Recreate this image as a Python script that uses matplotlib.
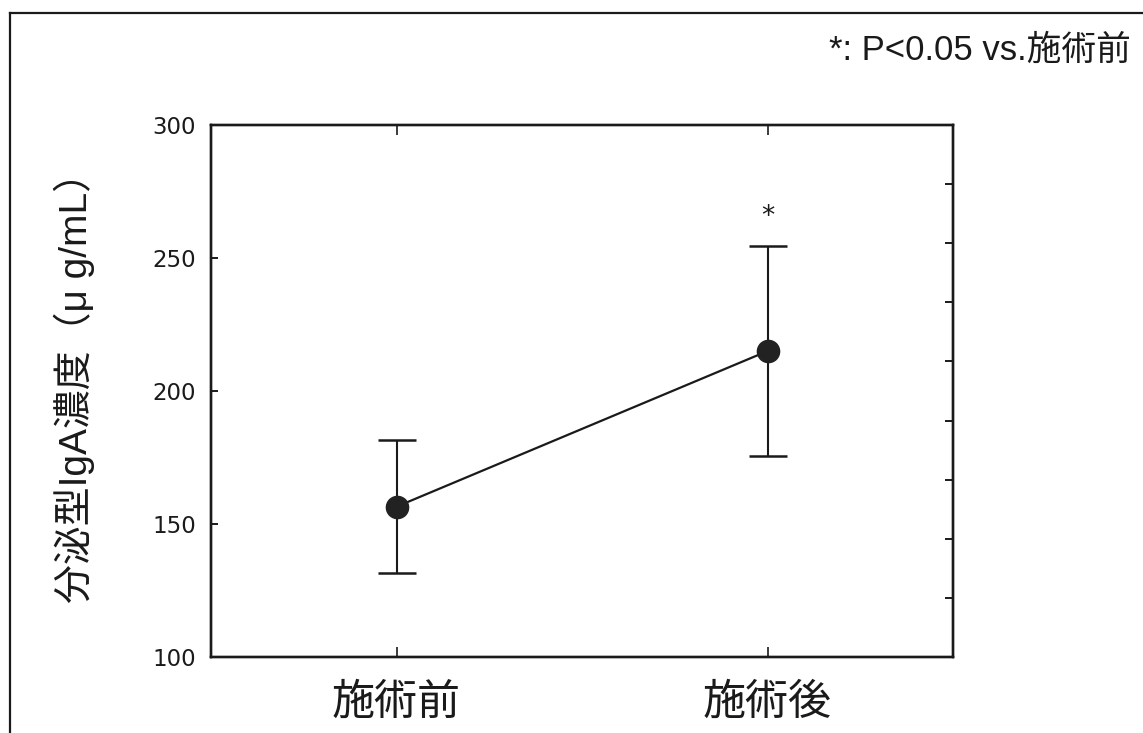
import matplotlib
matplotlib.use("Agg")
import matplotlib.pyplot as plt
from matplotlib.lines import Line2D

plt.rcParams['font.family'] = ['Liberation Sans', 'Noto Sans CJK JP', 'DejaVu Sans']

# Data
groups = ["施術前", "施術後"]
means = [156.5, 215.0]
errors = [25.0, 39.5]
ylim = (100, 300)
yticks = [100, 150, 200, 250, 300]
sig_marks = ["", "*"]
note = "*: P<0.05 vs.施術前"
ylabel = "分泌型IgA濃度（μ g/mL）"

fig = plt.figure(figsize=(11.43, 7.33), dpi=100)
ax = fig.add_axes([0.1846, 0.1037, 0.6492, 0.7258])

x = list(range(len(groups)))
ax.errorbar(x, means, yerr=errors, fmt='-o', color='#1a1a1a', ecolor='#1a1a1a',
            elinewidth=1.5, capsize=14, capthick=1.8, linewidth=1.6,
            markersize=16, markerfacecolor='#222222', markeredgecolor='#222222',
            zorder=3)

for xi, m, e, s in zip(x, means, errors, sig_marks):
    if s:
        ax.text(xi, m + e + 6, s, ha='center', va='bottom', fontsize=19,
                family=['DejaVu Sans'], color='#1a1a1a')

ax.set_xlim(-0.5, 1.5)
ax.set_ylim(*ylim)
ax.set_xticks(x)
ax.set_xticklabels(groups, family=['Noto Sans CJK JP'], fontsize=31)
ax.set_yticks(yticks)
ax.set_yticklabels([str(v) for v in yticks], family=['DejaVu Sans'], fontsize=16.5)

ax.tick_params(axis='y', direction='in', length=5, width=1.4, pad=11, colors='#1a1a1a')
ax.tick_params(axis='x', direction='in', length=7, width=1.2, pad=17, top=True,
               colors='#1a1a1a')

# Minor ticks on the right-hand spine
ax2 = ax.twinx()
ax2.set_ylim(*ylim)
ax2.set_yticks([ylim[0] + k * (ylim[1] - ylim[0]) / 9 for k in range(1, 9)])
ax2.set_yticklabels([])
ax2.tick_params(axis='y', direction='in', length=6, width=1.4, colors='#1a1a1a')

for a in (ax, ax2):
    for sp in a.spines.values():
        sp.set_linewidth(1.7)
        sp.set_color('#1a1a1a')

ax.set_ylabel(ylabel, fontsize=28, color='#1a1a1a')
ax.yaxis.set_label_coords(-0.156, 0.524)

fig.text(0.989, 0.932, note, ha='right', va='center', fontsize=25, color='#1a1a1a')

# Outer frame (top and left edges)
fig.add_artist(Line2D([0.0085, 1.0], [0.982, 0.982], transform=fig.transFigure,
                      color='#1a1a1a', linewidth=1.6))
fig.add_artist(Line2D([0.0085, 0.0085], [0.0, 0.982], transform=fig.transFigure,
                      color='#1a1a1a', linewidth=1.6))

fig.savefig("out.png", dpi=100, facecolor='white')
